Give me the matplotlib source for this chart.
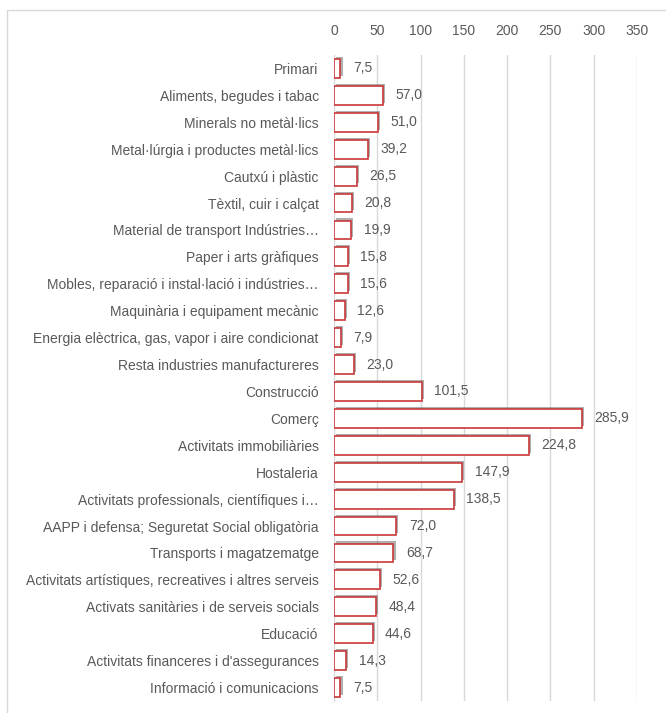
import matplotlib
matplotlib.use('Agg')
import matplotlib.pyplot as plt
import matplotlib.patheffects as pe
from matplotlib.patches import Rectangle

plt.rcParams['font.family'] = ['Liberation Sans', 'DejaVu Sans']

sectors = [
    "Primari",
    "Aliments, begudes i tabac",
    "Minerals no metàl·lics",
    "Metal·lúrgia i productes metàl·lics",
    "Cautxú i plàstic",
    "Tèxtil, cuir i calçat",
    "Material de transport Indústries…",
    "Paper i arts gràfiques",
    "Mobles, reparació i instal·lació i indústries…",
    "Maquinària i equipament mecànic",
    "Energia elèctrica, gas, vapor i aire condicionat",
    "Resta industries manufactureres",
    "Construcció",
    "Comerç",
    "Activitats immobiliàries",
    "Hostaleria",
    "Activitats professionals, científiques i…",
    "AAPP i defensa; Seguretat Social obligatòria",
    "Transports i magatzematge",
    "Activitats artístiques, recreatives i altres serveis",
    "Activats sanitàries i de serveis socials",
    "Educació",
    "Activitats financeres i d'assegurances",
    "Informació i comunicacions",
]
values = [7.5, 57.0, 51.0, 39.2, 26.5, 20.8, 19.9, 15.8, 15.6, 12.6, 7.9, 23.0,
          101.5, 285.9, 224.8, 147.9, 138.5, 72.0, 68.7, 52.6, 48.4, 44.6, 14.3, 7.5]
xticks = [0, 50, 100, 150, 200, 250, 300, 350]

TXT = '#595959'
RED = '#C9373A'

fig = plt.figure(figsize=(6.66, 7.13), dpi=100)
# chart-area border (partly cut off like the reference)
fig.patches.append(Rectangle((7 / 666, -0.05), 1.0, 1 - 10 / 713 + 0.05,
                             transform=fig.transFigure, fill=False,
                             edgecolor='#D9D9D9', lw=1.0))
ax = fig.add_axes([334 / 666, 1 - 701 / 713, (637 - 334) / 666, (701 - 55) / 713])

y = list(range(len(sectors)))
bars = ax.barh(y, values, height=0.7, color='white', edgecolor=RED, lw=1.2, zorder=3)
for b in bars:
    b.set_path_effects([pe.SimplePatchShadow(offset=(1.5, 1.5), shadow_rgbFace='#606060', alpha=0.5),
                        pe.Normal()])

for yi, v in zip(y, values):
    ax.annotate(f"{v:.1f}".replace('.', ','), (v, yi), xytext=(9, 0),
                textcoords='offset points', va='center', ha='left',
                fontsize=10, color=TXT)

ax.set_ylim(len(sectors) - 0.5, -0.5)
ax.set_xlim(0, 350)
ax.set_xticks(xticks)
ax.xaxis.tick_top()
ax.set_yticks(y)
ax.set_yticklabels(sectors)
ax.tick_params(axis='x', length=0, pad=12, labelsize=10, colors=TXT)
ax.tick_params(axis='y', length=0, pad=11, labelsize=10, colors=TXT)
ax.grid(axis='x', color='#D9D9D9', lw=1.0, zorder=0)
for s in ['top', 'right', 'bottom']:
    ax.spines[s].set_visible(False)
ax.spines['left'].set_color('#D9D9D9')

fig.savefig('out.png', dpi=100)
